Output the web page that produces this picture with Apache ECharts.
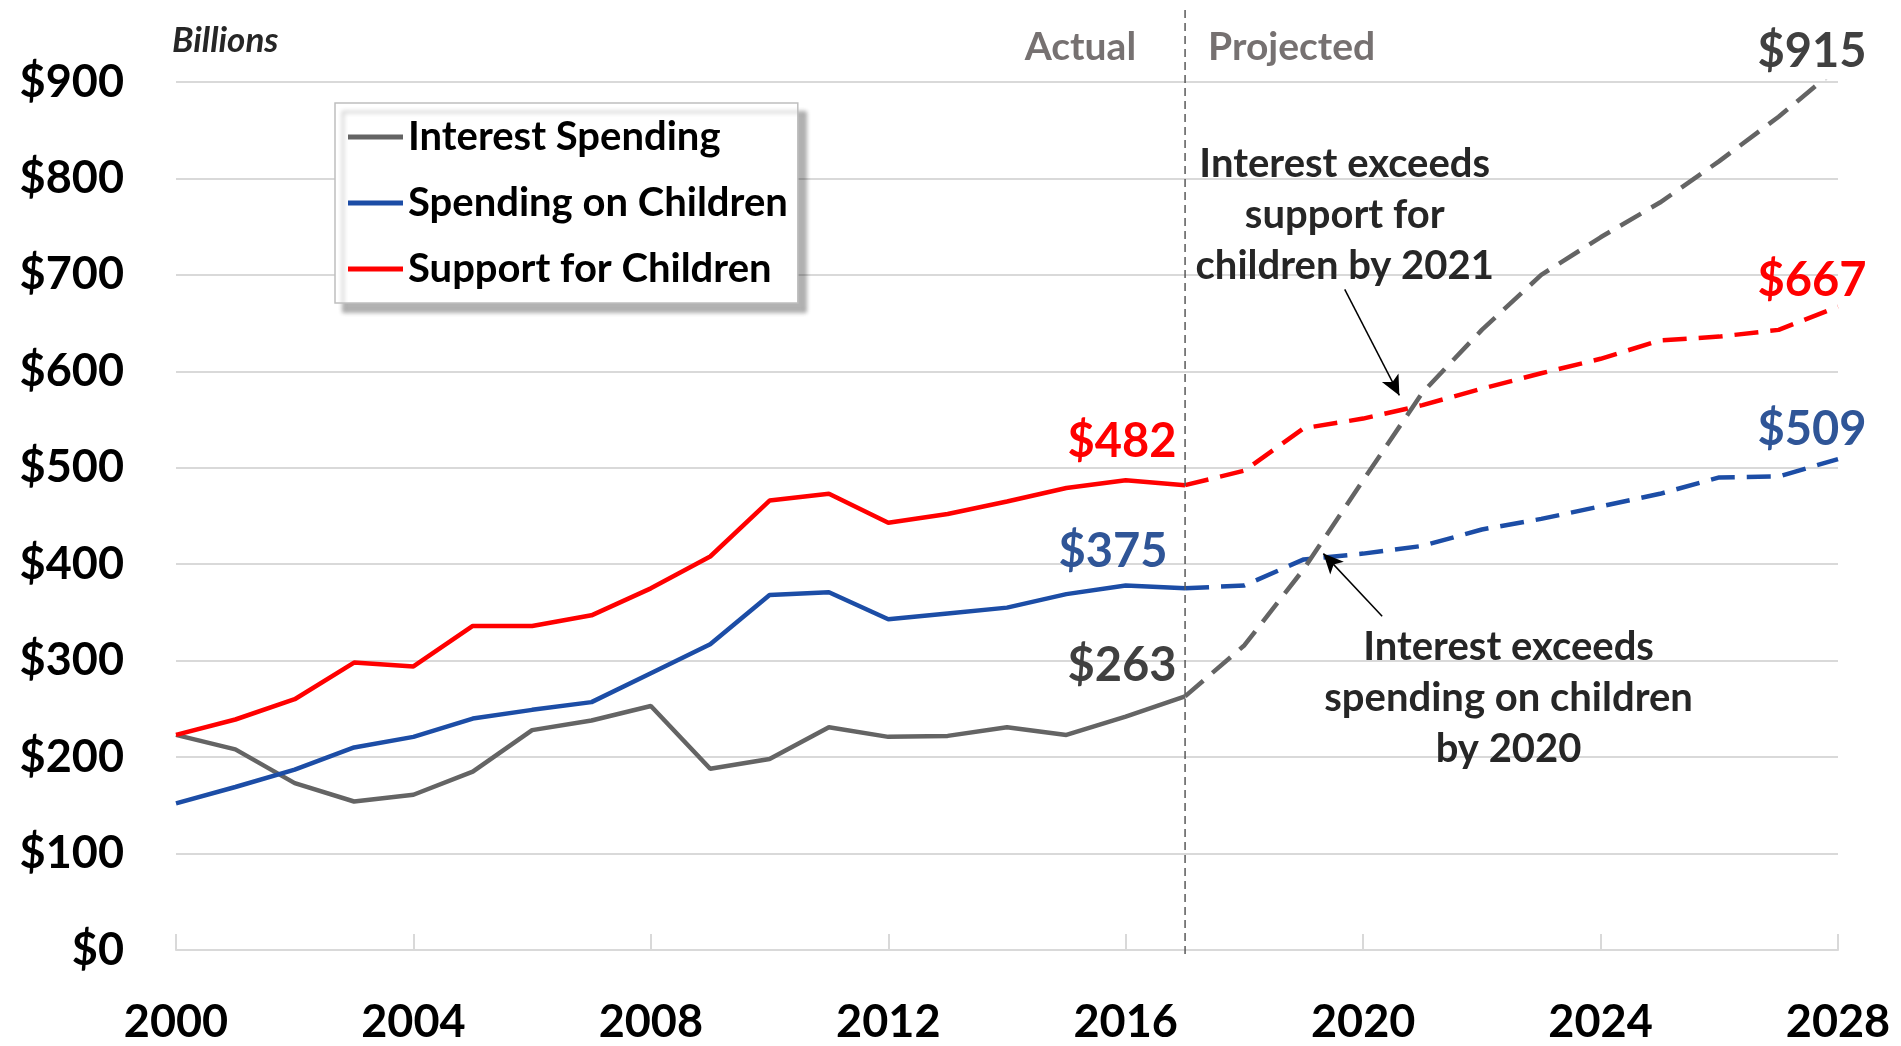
<!DOCTYPE html>
<html>
<head>
<meta charset="utf-8">
<script src="https://cdn.jsdelivr.net/npm/echarts/dist/echarts.min.js"></script>
<style>
html, body { margin: 0; padding: 0; background: #fff; }
#chart { width: 1901px; height: 1046px; }
</style>
</head>
<body>
<div id="chart"></div>
<script>
// data, billions of dollars
var years = [2000, 2001, 2002, 2003, 2004, 2005, 2006, 2007, 2008, 2009,
             2010, 2011, 2012, 2013, 2014, 2015, 2016, 2017, 2018, 2019,
             2020, 2021, 2022, 2023, 2024, 2025, 2026, 2027, 2028];
var interest = [223, 208, 173, 154, 161, 185, 228, 238, 253, 188,
                198, 231, 221, 222, 231, 223, 242, 263, 316, 395,
                487, 578, 643, 700, 739, 775, 818, 864, 915];
var spending = [152, 169, 187, 210, 221, 240, 249, 257, 287, 317,
                368, 371, 343, 349, 355, 369, 378, 375, 378, 405,
                411, 419, 436, 447, 460, 473, 490, 491, 509];
var support = [223, 239, 260, 298, 294, 336, 336, 347, 375, 408,
               466, 473, 443, 452, 465, 479, 487, 482, 497, 541,
               551, 565, 582, 598, 613, 632, 636, 643, 667];
var lastActual = 2017;

var FONT = 'Lato, "Open Sans", sans-serif';
var GRAY = '#646464', BLUE = '#1c4da6', RED = '#ff0000';

function part(vals, projected) {
    var out = [];
    years.forEach(function (y, i) {
        if (projected ? y >= lastActual : y <= lastActual) out.push([y, vals[i]]);
    });
    return out;
}

function lineSeries(name, vals, color, projected, extra) {
    var s = {
        name: name,
        type: 'line',
        data: part(vals, projected),
        symbol: 'none',
        color: color,
        lineStyle: { color: color, width: 4.5, type: projected ? [24, 12] : 'solid' },
        silent: true
    };
    if (extra) for (var k in extra) s[k] = extra[k];
    return s;
}

var arrowLine = {
    silent: true,
    symbol: ['none', 'arrow'],
    symbolSize: [14, 20],
    label: { show: false },
    lineStyle: { color: '#000', width: 1.5, type: 'solid' },
    data: [
        [{ coord: [2019.69, 685] }, { coord: [2020.61, 575] }],
        [{ coord: [2020.32, 346] }, { coord: [2019.33, 411] }]
    ]
};

var chart = echarts.init(document.getElementById('chart'));
var option = {
    animation: false,
    backgroundColor: '#fff',
    grid: { left: 176, right: 63, top: 82, bottom: 96 },
    xAxis: {
        type: 'value', min: 2000, max: 2028, interval: 4,
        axisLine: { lineStyle: { color: '#d9d9d9', width: 2 } },
        axisTick: { inside: true, length: 16, lineStyle: { color: '#d9d9d9', width: 2 } },
        splitLine: { show: false },
        axisLabel: {
            margin: 50, fontSize: 45, fontWeight: 'bold', color: '#000', fontFamily: FONT,
            formatter: function (v) { return String(v); }
        }
    },
    yAxis: {
        type: 'value', min: 0, max: 900, interval: 100,
        axisLine: { show: false },
        axisTick: { show: false },
        splitLine: { lineStyle: { color: '#d9d9d9', width: 2 } },
        axisLabel: {
            margin: 52, fontSize: 45, fontWeight: 'bold', color: '#000', fontFamily: FONT,
            formatter: function (v) { return '$' + v; }
        }
    },
    legend: {
        data: ['Interest Spending', 'Spending on Children', 'Support for Children'],
        orient: 'vertical',
        left: 335, top: 103,
        icon: 'rect', itemWidth: 55, itemHeight: 5, itemGap: 26,
        padding: [14, 10, 14, 13],
        backgroundColor: '#fff', borderColor: '#bfbfbf', borderWidth: 1.5,
        shadowColor: 'rgba(0,0,0,0.3)', shadowBlur: 4, shadowOffsetX: 8, shadowOffsetY: 9,
        selectedMode: false,
        textStyle: { fontFamily: FONT, fontSize: 40, fontWeight: 'bold', color: '#000' }
    },
    series: [
        lineSeries('Interest Spending', interest, GRAY, false),
        lineSeries('Spending on Children', spending, BLUE, false),
        lineSeries('Support for Children', support, RED, false),
        lineSeries('Support for Children', support, RED, true),
        lineSeries('Spending on Children', spending, BLUE, true),
        lineSeries('Interest Spending', interest, GRAY, true, { markLine: arrowLine })
    ]
};
chart.setOption(option);

// texts anchored to the data through the chart's own scales
function px(x, y) { return chart.convertToPixel({ gridIndex: 0 }, [x, y]); }
function valueOf(arr, year) { return arr[years.indexOf(year)]; }

function txt(p, dx, dy, text, color, size, align) {
    return {
        type: 'text', x: p[0] + dx, y: p[1] + dy, silent: true, z: 100,
        style: {
            text: text, fill: color, fontFamily: FONT, fontWeight: 'bold', fontSize: size,
            align: align || 'center', verticalAlign: 'middle', lineHeight: 51
        }
    };
}

var divX = px(lastActual, 0)[0];
var top0 = px(lastActual, 900)[1];
var bot0 = px(lastActual, 0)[1];
var graphics = [
    {
        type: 'line', silent: true, z: 50,
        shape: { x1: divX, y1: 10, x2: divX, y2: bot0 + 8 },
        style: { stroke: '#595959', lineWidth: 1.5, lineDash: [8, 5] }
    },
    txt([divX, top0], -49, -35, 'Actual', '#767171', 39, 'right'),
    txt([divX, top0], 23, -35, 'Projected', '#767171', 39, 'left'),
    {
        type: 'text', x: px(2000, 900)[0] - 4, y: top0 - 41, silent: true,
        style: { text: 'Billions', fill: '#262626', fontFamily: FONT, fontStyle: 'italic',
                 fontWeight: 'bold', fontSize: 35, align: 'left', verticalAlign: 'middle' }
    },
    txt(px(2028, valueOf(interest, 2028)), -26, -16, '$' + valueOf(interest, 2028), '#404040', 47),
    txt(px(2028, valueOf(support, 2028)), -26, -26, '$' + valueOf(support, 2028), RED, 47),
    txt(px(2028, valueOf(spending, 2028)), -26, -29, '$' + valueOf(spending, 2028), '#2f5597', 47),
    txt(px(2017, valueOf(support, 2017)), -63, -43, '$' + valueOf(support, 2017), RED, 47),
    txt(px(2017, valueOf(spending, 2017)), -72, -36, '$' + valueOf(spending, 2017), '#2f5597', 47),
    txt(px(2017, valueOf(interest, 2017)), -63, -31, '$' + valueOf(interest, 2017), '#404040', 47),
    txt(px(2019.69, 762), 0, 0, 'Interest exceeds\nsupport for\nchildren by 2021', '#262626', 40),
    txt(px(2022.45, 261), 0, 0, 'Interest exceeds\nspending on children\nby 2020', '#262626', 40)
];
chart.setOption({ graphic: graphics });
</script>
</body>
</html>
